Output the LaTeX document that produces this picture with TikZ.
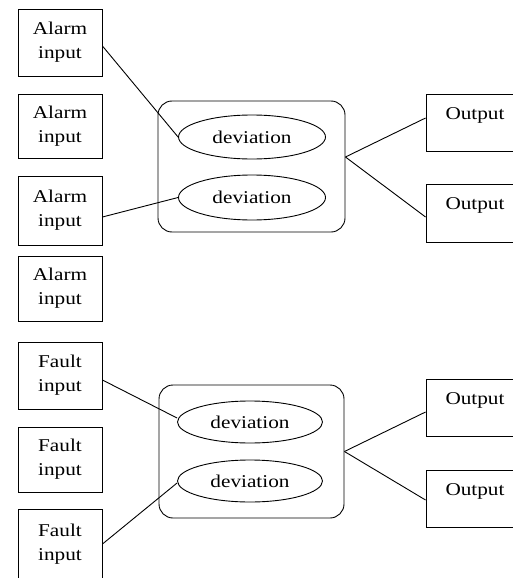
\documentclass[tikz,border=0pt]{standalone}
\usepackage{fontspec}
\setmainfont[FakeStretch=1.18]{Liberation Serif}
\usetikzlibrary{shapes.geometric}
\begin{document}
\begin{tikzpicture}[x=1pt,y=-1pt,
  every node/.style={font=\fontsize{18}{24}\selectfont},
  inbox/.style={draw, line width=0.9pt, minimum width=84pt, inner sep=0pt, align=center},
  outbox/.style={draw, line width=0.9pt, minimum width=98pt, inner sep=0pt},
  group/.style={draw, line width=0.9pt, rounded corners=14pt, inner sep=0pt},
  dev/.style={draw, ellipse, line width=0.9pt, inner sep=0pt},
  conn/.style={line width=0.9pt}]
\useasboundingbox (0,0) rectangle (513,578);
\clip (0,0) rectangle (513,578);
% inputs
\node[inbox, minimum height=67pt] (a1) at (60,42.5) {Alarm\\input};
\node[inbox, minimum height=64pt] (a2) at (60,126) {Alarm\\input};
\node[inbox, minimum height=69pt] (a3) at (60,210.5) {Alarm\\input};
\node[inbox, minimum height=65pt] (a4) at (60,288.5) {Alarm\\input};
\node[inbox, minimum height=67pt] (f1) at (60,375.5) {Fault\\input};
\node[inbox, minimum height=65pt] (f2) at (60,459.5) {Fault\\input};
\node[inbox, minimum height=70pt] (f3) at (60,544) {Fault\\input};
% groups
\node[group, minimum width=187pt, minimum height=131pt] (g1) at (251.5,166.5) {};
\node[group, minimum width=185pt, minimum height=133pt] (g2) at (251.5,451.5) {};
% deviations
\node[dev, minimum width=147pt, minimum height=44pt] (e1) at (252,137) {deviation};
\node[dev, minimum width=147pt, minimum height=45pt] (e2) at (252,197.5) {deviation};
\node[dev, minimum width=145pt, minimum height=42pt] (e3) at (250,422) {deviation};
\node[dev, minimum width=145pt, minimum height=42pt] (e4) at (250,481) {deviation};
% outputs
\node[outbox, minimum height=57pt] (o1) at (475,122.5) {};
\node[outbox, minimum height=58pt] (o2) at (475,213) {};
\node[outbox, minimum height=57pt] (o3) at (475,407.5) {};
\node[outbox, minimum height=57pt] (o4) at (475,498.5) {};
\node[anchor=base] (o1t) at ([yshift=-26pt]o1.north) {Output};
\node[anchor=base] (o2t) at ([yshift=-26pt]o2.north) {Output};
\node[anchor=base] (o3t) at ([yshift=-26pt]o3.north) {Output};
\node[anchor=base] (o4t) at ([yshift=-26pt]o4.north) {Output};
% connectors
\draw[conn] ([yshift=-3.5pt]a1.east) -- (e1.west);
\draw[conn] ([yshift=-6.5pt]a3.east) -- (e2.west);
\draw[conn] ([yshift=9.5pt]g1.east) -- ([yshift=4.5pt]o1.west);
\draw[conn] ([yshift=9.5pt]g1.east) -- ([yshift=-4pt]o2.west);
\draw[conn] ([yshift=-4.5pt]f1.east) -- ([yshift=4pt]e3.west);
\draw[conn] (f3.east) -- ([yshift=-2pt]e4.west);
\draw[conn] (g2.east) -- ([yshift=-4.5pt]o3.west);
\draw[conn] (g2.east) -- ([yshift=-1.5pt]o4.west);
\end{tikzpicture}
\end{document}
